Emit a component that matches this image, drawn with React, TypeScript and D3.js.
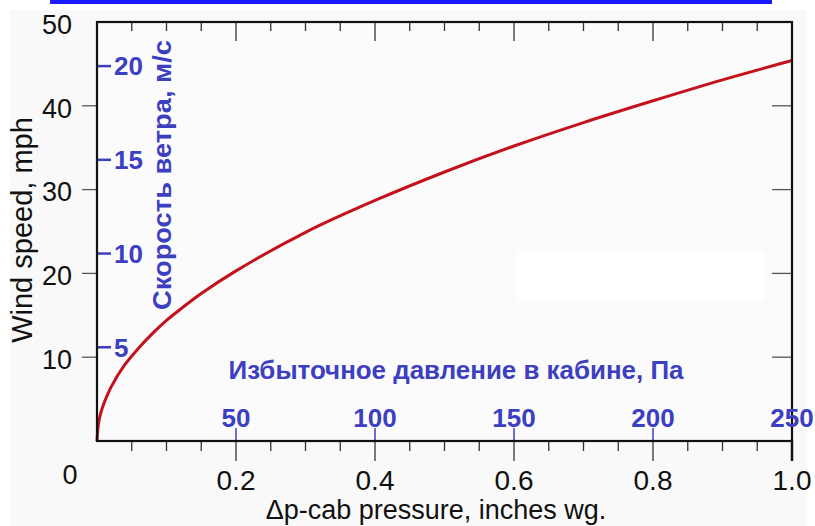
import React from "react";
import * as d3 from "d3";

// Red curve
const pressureInWg = [0, 0.002, 0.005, 0.01, 0.02, 0.04, 0.06, 0.08, 0.1, 0.125, 0.15, 0.2, 0.3, 0.4, 0.5, 0.6, 0.7, 0.8, 0.9, 1.0];
const windMph = [0, 2.0, 3.2, 4.5, 6.4, 9.1, 11.1, 12.85, 14.4, 16.05, 17.6, 20.3, 24.9, 28.7, 32.1, 35.2, 38.0, 40.6, 43.1, 45.4];

// Axis ticks and labels
const xLabelTicks = [0.2, 0.4, 0.6, 0.8, 1.0];
const xLabelText = ["0.2", "0.4", "0.6", "0.8", "1.0"];
const yTicks = [10, 20, 30, 40];
const yLabelTicks = [10, 20, 30, 40, 50];
const paTicks = [50, 100, 150, 200, 250];
const msTicks = [5, 10, 15, 20];

const xTitle = "Δp-cab pressure, inches wg.";
const yTitle = "Wind speed, mph";
const paTitle = "Избыточное давление в кабине, Па";
const msTitle = "Скорость ветра, м/с";

const MPH_PER_MS = 2.23694;

const W = 815;
const H = 526;
const L = 97, R = 792, T = 22, B = 441;
const BLUE = "#3c40c0";
const RED = "#c4121c";
const FONT = "'Liberation Sans', Arial, sans-serif";

export default function App() {
  const x = d3.scaleLinear().domain([0, 1]).range([L, R]);
  const y = d3.scaleLinear().domain([0, 50]).range([B, T]);
  const xPa = d3.scaleLinear().domain([0, 250]).range([L, R]);
  const yMs = d3.scaleLinear().domain([0, 50 / MPH_PER_MS]).range([B, T]);

  const pts: [number, number][] = pressureInWg.map((p, i) => [p, windMph[i]]);
  const line = d3
    .line<[number, number]>()
    .x((d) => x(d[0]))
    .y((d) => y(d[1]))
    .curve(d3.curveCatmullRom.alpha(0.5));

  const fineTicks = d3.range(1, 20).map((i) => i * 0.05);
  const isMajor = (v: number) => Math.abs(v / 0.2 - Math.round(v / 0.2)) < 1e-6;

  return (
    <div style={{ position: "absolute", left: 0, top: 0, width: W, height: H }}>
      <svg width={W} height={H} style={{ display: "block", fontFamily: FONT }}>
        <rect x={0} y={0} width={W} height={H} fill="#ffffff" />
        <rect x={10} y={10} width={W - 18} height={H - 10} fill="#f9f9f9" />
        <rect x={L} y={T} width={R - L} height={B - T} fill="#fbfbfb" />
        <rect x={517} y={252} width={248} height={48} fill="#ffffff" />
        {/* blue link underline at very top */}
        <rect x={50} y={0} width={722} height={4} fill="#1a1aff" />

        {/* curve */}
        <path d={line(pts) || ""} fill="none" stroke={RED} strokeWidth={3} />

        {/* top ticks (inward) */}
        {fineTicks.map((v) => (
          <line key={"t" + v} x1={x(v)} x2={x(v)} y1={T} y2={T + (isMajor(v) ? 19 : 9)} stroke="#333" strokeWidth={1.3} />
        ))}
        {/* bottom ticks (outward) */}
        {fineTicks.map((v) => (
          <line key={"b" + v} x1={x(v)} x2={x(v)} y1={B} y2={B + (isMajor(v) ? 20 : 10)} stroke="#333" strokeWidth={1.3} />
        ))}
        <line x1={R} x2={R} y1={B} y2={B + 20} stroke="#111" strokeWidth={2.5} />

        {/* left ticks (outward) and right ticks (inward) */}
        {yTicks.map((v) => (
          <g key={"y" + v}>
            <line x1={L - 15} x2={L} y1={y(v)} y2={y(v)} stroke="#555" strokeWidth={1.3} />
            <line x1={R - 20} x2={R} y1={y(v)} y2={y(v)} stroke="#555" strokeWidth={1.3} />
          </g>
        ))}

        {/* Pa ticks (blue, upward) */}
        {paTicks.map((v) => (
          <line key={"pa" + v} x1={xPa(v)} x2={xPa(v)} y1={B - 13} y2={B} stroke={BLUE} strokeWidth={1.5} />
        ))}
        {/* m/s ticks (blue, inside) */}
        {msTicks.map((v) => (
          <line key={"ms" + v} x1={L + 1} x2={L + 14} y1={yMs(v)} y2={yMs(v)} stroke={BLUE} strokeWidth={2.5} />
        ))}

        {/* frame */}
        <rect x={L} y={T} width={R - L} height={B - T} fill="none" stroke="#111" strokeWidth={2.2} />

        {/* y labels */}
        {yLabelTicks.map((v) => (
          <text key={"yl" + v} x={72} y={y(v) + 2} dy="0.36em" textAnchor="end" fontSize={27} fill="#111">
            {v}
          </text>
        ))}
        <text x={70} y={474} dy="0.36em" textAnchor="middle" fontSize={27} fill="#111">0</text>

        {/* x labels */}
        {xLabelTicks.map((v, i) => (
          <text key={"xl" + v} x={x(v)} y={490} textAnchor="middle" fontSize={28} fill="#111">
            {xLabelText[i]}
          </text>
        ))}
        <text x={436} y={519} textAnchor="middle" fontSize={27} fill="#111">{xTitle}</text>
        <text transform={`translate(32,230) rotate(-90)`} textAnchor="middle" fontSize={29} fill="#111">{yTitle}</text>

        {/* Pa labels */}
        {paTicks.map((v) => (
          <text key={"pl" + v} x={xPa(v)} y={427} textAnchor="middle" fontSize={26} fontWeight="bold" fill={BLUE}>
            {v}
          </text>
        ))}
        <text x={456} y={379} textAnchor="middle" fontSize={26} fontWeight="bold" fill={BLUE} textLength={455} lengthAdjust="spacingAndGlyphs">{paTitle}</text>

        {/* m/s labels */}
        {msTicks.map((v) => (
          <text key={"ml" + v} x={114} y={yMs(v)} dy="0.36em" textAnchor="start" fontSize={26} fontWeight="bold" fill={BLUE}>
            {v}
          </text>
        ))}
        <text transform={`translate(171,175) rotate(-90)`} textAnchor="middle" fontSize={26} fontWeight="bold" fill={BLUE} textLength={270} lengthAdjust="spacingAndGlyphs">{msTitle}</text>
      </svg>
    </div>
  );
}
